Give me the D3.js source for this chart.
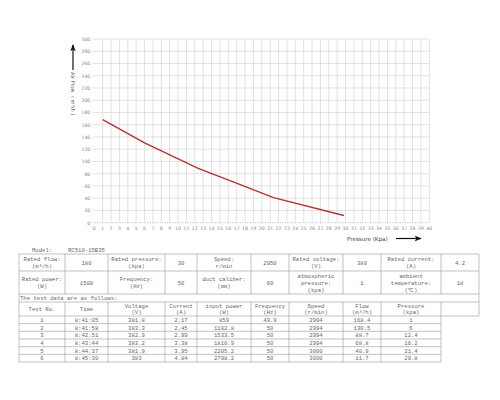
<!DOCTYPE html>
<html>
<head>
<meta charset="utf-8">
<script src="https://cdn.jsdelivr.net/npm/d3@7/dist/d3.min.js"></script>
<style>
  body { margin: 0; background: #fff; }
  svg { display: block; }
</style>
</head>
<body>
<svg width="500" height="400"></svg>
<script>
// curve points (pressure Kpa -> flow m3/h)
var pressure = [1, 6, 12.4, 16.2, 21.4, 29.8];
var flow = [168.4, 130.5, 88.7, 68.8, 40.9, 11.7];

var xTicks = d3.range(0, 41, 1);
var yTicks = d3.range(0, 301, 20);

// table data
var model = "RC510-15B35";
var ratedRow1 = [["Rated flow:", "(m³/h)"], ["180"], ["Rated pressure:", "(kpa)"], ["30"], ["Speed:", "r/min"], ["2950"], ["Rated voltage:", "(V)"], ["380"], ["Rated current:", "(A)"], ["4.2"]];
var ratedRow2 = [["Rated power:", "(W)"], ["1500"], ["Frequency:", "(Hz)"], ["50"], ["duct caliber:", "(mm)"], ["60"], ["atmospheric", "pressure:", "(kpa)"], ["1"], ["ambient", "temperature:", "(℃)"], ["18"]];
var headers = [["Test No."], ["Time"], ["Voltage", "(V)"], ["Current", "(A)"], ["input power", "(W)"], ["Frequency", "(Hz)"], ["Speed", "(r/min)"], ["Flow", "(m³/h)"], ["Pressure", "(kpa)"], [""]];
var testNo = ["1", "2", "3", "4", "5", "6"];
var times = ["8:41:05", "8:41:58", "8:42:51", "8:43:44", "8:44:37", "8:45:30"];
var voltages = ["381.8", "383.3", "382.9", "383.2", "381.9", "383"];
var currents = ["2.17", "2.45", "2.99", "3.38", "3.95", "4.84"];
var inputPower = ["859", "1102.8", "1533.5", "1810.9", "2205.2", "2798.2"];
var frequency = ["49.9", "50", "50", "50", "50", "50"];
var speeds = ["2994", "2994", "2994", "2994", "3000", "3000"];
var flows = ["168.4", "130.5", "88.7", "68.8", "40.9", "11.7"];
var pressures = ["1", "6", "12.4", "16.2", "21.4", "29.8"];

var svg = d3.select("svg");
var mono = "'Liberation Mono', 'DejaVu Sans Mono', monospace";

var x = d3.scaleLinear().domain([0, 40]).range([94.3, 429.3]);
var y = d3.scaleLinear().domain([0, 300]).range([222.7, 39]);

var grid = svg.append("g");
grid.selectAll("line.v")
    .data(xTicks)
    .enter().append("line")
    .attr("x1", function (d) { return x(d); })
    .attr("x2", function (d) { return x(d); })
    .attr("y1", y(300))
    .attr("y2", y(0))
    .attr("stroke", function (d) { return d == 0 ? "none" : "#d6d6d6"; })
    .attr("stroke-width", 0.7);
grid.selectAll("line.h")
    .data(yTicks)
    .enter().append("line")
    .attr("x1", x(0) - 2)
    .attr("x2", x(40))
    .attr("y1", function (d) { return y(d); })
    .attr("y2", function (d) { return y(d); })
    .attr("stroke", function (d) { return d == 0 ? "#999" : "#d6d6d6"; })
    .attr("stroke-dasharray", function (d) { return d == 0 ? "1,1.5" : null; })
    .attr("stroke-width", 0.7);

svg.append("g").selectAll("text")
    .data(yTicks)
    .enter().append("text")
    .attr("x", x(0) - 4)
    .attr("y", function (d) { return y(d) + 1.8; })
    .attr("text-anchor", "end")
    .attr("font-family", "'DejaVu Sans', sans-serif")
    .attr("font-size", 4.6)
    .attr("fill", "#888")
    .text(function (d) { return d; });

svg.append("g").selectAll("text")
    .data(xTicks)
    .enter().append("text")
    .attr("x", function (d) { return x(d); })
    .attr("y", y(0) + 7)
    .attr("text-anchor", "middle")
    .attr("font-family", "'DejaVu Sans', sans-serif")
    .attr("font-size", 4.6)
    .attr("fill", "#888")
    .text(function (d) { return d; });

var line = d3.line()
    .x(function (d, i) { return x(pressure[i]); })
    .y(function (d, i) { return y(flow[i]); });

svg.append("path")
    .datum(flow)
    .attr("d", line)
    .attr("fill", "none")
    .attr("stroke", "#b8312f")
    .attr("stroke-width", 1.4);

// arrows
var defs = svg.append("defs");
defs.append("marker")
    .attr("id", "arrow")
    .attr("viewBox", "0 0 10 10")
    .attr("refX", 9).attr("refY", 5)
    .attr("markerWidth", 6).attr("markerHeight", 6)
    .attr("orient", "auto")
    .append("path")
    .attr("d", "M0,1L10,5L0,9L3,5Z")
    .attr("fill", "#111");

svg.append("line")
    .attr("x1", 73).attr("y1", 70).attr("x2", 73).attr("y2", 45)
    .attr("stroke", "#111").attr("stroke-width", 1.2)
    .attr("marker-end", "url(#arrow)");
svg.append("text")
    .attr("transform", "translate(71,72) rotate(90)")
    .attr("font-family", "'DejaVu Sans', sans-serif")
    .attr("font-size", 5.2)
    .attr("fill", "#555")
    .attr("xml:space", "preserve")
    .text("Air Flow  ( m³/h )");

svg.append("text")
    .attr("x", 347).attr("y", 240.5)
    .attr("font-family", "'DejaVu Sans', sans-serif")
    .attr("font-size", 5.6)
    .attr("fill", "#444")
    .text("Pressure (Kpa)");
svg.append("line")
    .attr("x1", 396).attr("y1", 238.5).attr("x2", 421).attr("y2", 238.5)
    .attr("stroke", "#111").attr("stroke-width", 1.2)
    .attr("marker-end", "url(#arrow)");

// table
var cols = [19, 65, 108, 165, 197, 251, 289, 343, 381, 441, 479];
var tbl = svg.append("g")
    .attr("font-family", mono)
    .attr("font-size", 5.6)
    .attr("fill", "#666");
var border = "#999";

tbl.append("text").attr("x", 32).attr("y", 252).text("Model:");
tbl.append("text").attr("x", 68).attr("y", 252).text(model);

function hline(y0, x0, x1) {
    tbl.append("line").attr("x1", x0).attr("x2", x1).attr("y1", y0).attr("y2", y0)
        .attr("stroke", border).attr("stroke-width", 0.6);
}
function vline(xp, y0, y1) {
    tbl.append("line").attr("x1", xp).attr("x2", xp).attr("y1", y0).attr("y2", y1)
        .attr("stroke", border).attr("stroke-width", 0.6);
}
function cellRow(cells, y0, y1, lh) {
    cells.forEach(function (lines, i) {
        var cx = (cols[i] + cols[i + 1]) / 2;
        var mid = (y0 + y1) / 2;
        var start = mid - (lines.length - 1) * lh / 2 + 2;
        lines.forEach(function (t, j) {
            tbl.append("text")
                .attr("x", cx)
                .attr("y", start + j * lh)
                .attr("text-anchor", "middle")
                .text(t);
        });
    });
    cols.forEach(function (c) { vline(c, y0, y1); });
}

var rows = [254, 271, 294, 302, 316];
hline(rows[0], cols[0], cols[10]);
hline(rows[1], cols[0], cols[10]);
hline(rows[2], cols[0], cols[10]);
hline(rows[3], cols[0], cols[10]);
hline(rows[4], cols[0], cols[10]);
cellRow(ratedRow1, rows[0], rows[1], 7);
cellRow(ratedRow2, rows[1], rows[2], 7);
vline(cols[0], rows[2], rows[3]);
vline(cols[10], rows[2], rows[3]);
tbl.append("text").attr("x", 20).attr("y", 300).text("The test data are as follows:");
cellRow(headers, rows[3], rows[4], 6.5);

var dataCols = [testNo, times, voltages, currents, inputPower, frequency, speeds, flows, pressures];
var rh = 7.67;
testNo.forEach(function (n, r) {
    var y0 = rows[4] + r * rh;
    dataCols.forEach(function (col, i) {
        tbl.append("text")
            .attr("x", (cols[i] + cols[i + 1]) / 2)
            .attr("y", y0 + rh / 2 + 2)
            .attr("text-anchor", "middle")
            .text(col[r]);
        vline(cols[i], y0, y0 + rh);
    });
    vline(cols[9], y0, y0 + rh);
    hline(y0 + rh, cols[0], cols[9]);
});
</script>
</body>
</html>
